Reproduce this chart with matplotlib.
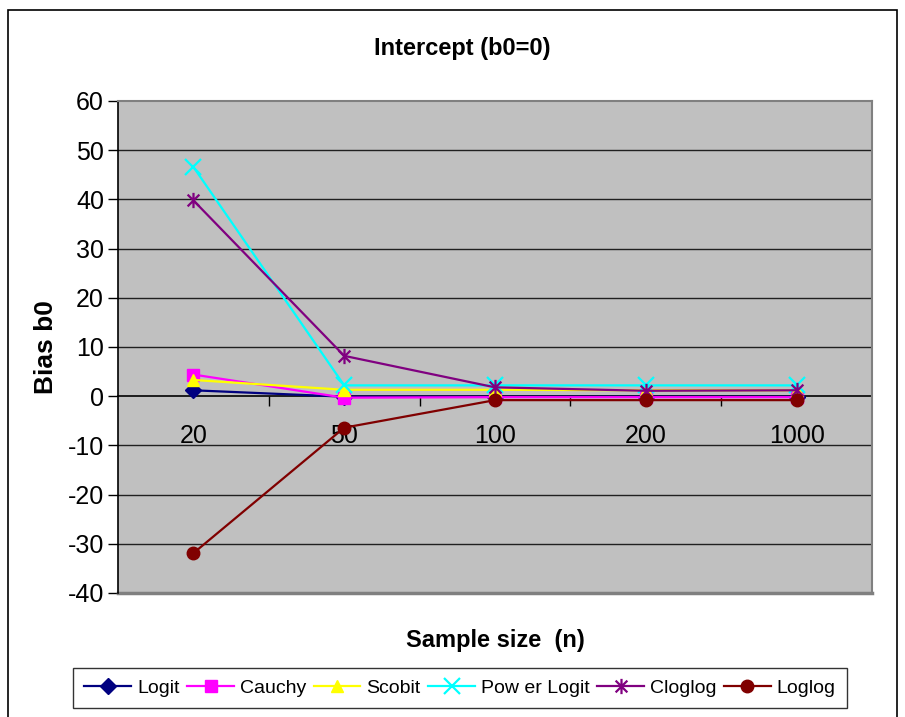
import matplotlib
matplotlib.use("Agg")
import matplotlib.pyplot as plt
from matplotlib.path import Path
from matplotlib.patches import Rectangle
from matplotlib import font_manager

# Data
sample_sizes = ["20", "50", "100", "200", "1000"]
logit = [1.2, -0.1, -0.1, -0.1, -0.1]
cauchy = [4.4, -0.3, -0.2, -0.2, -0.2]
scobit = [3.3, 1.3, 1.3, 1.2, 1.2]
power_logit = [46.6, 2.2, 2.2, 2.2, 2.2]
cloglog = [39.8, 8.2, 1.8, 1.1, 1.2]
loglog = [-31.9, -6.4, -0.8, -0.8, -0.8]

series_names = ["Logit", "Cauchy", "Scobit", "Pow er Logit", "Cloglog", "Loglog"]
y_ticks = list(range(-40, 61, 10))

available = {f.name for f in font_manager.fontManager.ttflist}
base_font = "Liberation Sans Narrow" if "Liberation Sans Narrow" in available else "Liberation Sans"
plt.rcParams["font.family"] = [base_font, "DejaVu Sans"]

# asterisk marker: an x crossed with a vertical bar
star_path = Path(
    [(-1, -1), (1, 1), (-1, 1), (1, -1), (0, -1.3), (0, 1.3)],
    [Path.MOVETO, Path.LINETO, Path.MOVETO, Path.LINETO, Path.MOVETO, Path.LINETO],
)

styles = [
    (logit, "#000080", "D", 8),
    (cauchy, "#FF00FF", "s", 8),
    (scobit, "#FFFF00", "^", 9),
    (power_logit, "#00FFFF", "x", 11),
    (cloglog, "#800080", star_path, 11),
    (loglog, "#800000", "o", 9),
]

fig = plt.figure(figsize=(9.05, 7.17), dpi=100)
ax = fig.add_axes([118 / 905, 1 - 593 / 717, (872 - 118) / 905, (593 - 101) / 717])
ax.set_facecolor("#C0C0C0")

xs = list(range(len(sample_sizes)))
for (vals, color, marker, ms), name in zip(styles, series_names):
    mew = 1.6 if marker in ("x",) or marker is star_path else 1
    ax.plot(xs, vals, color=color, lw=1.6, marker=marker, markersize=ms,
            markeredgewidth=mew, markerfacecolor=color, markeredgecolor=color,
            label=name, zorder=3)

ax.set_xlim(-0.5, len(sample_sizes) - 0.5)
ax.set_ylim(-40, 60)
ax.set_yticks(y_ticks)
ax.set_yticklabels([str(v) for v in y_ticks], fontsize=18)
for v in y_ticks:
    if -40 < v < 60 and v != 0:
        ax.axhline(v, color="#202020", lw=1.0, zorder=1)

# x axis sits on the zero line; ticks between categories, labels centred
ax.spines["bottom"].set_position(("data", 0))
ax.spines["bottom"].set_color("black")
ax.spines["bottom"].set_linewidth(1.2)
ax.spines["bottom"].set_zorder(2)
ax.set_xticks([i + 0.5 for i in range(len(sample_sizes) - 1)])
ax.set_xticklabels([])
ax.tick_params(axis="x", which="major", direction="out", length=7, width=1, color="black")
ax.set_xticks(xs, minor=True)
ax.set_xticklabels(sample_sizes, minor=True, fontsize=18)
ax.tick_params(axis="x", which="minor", length=0, pad=20)
ax.tick_params(axis="y", direction="out", length=7, width=1, color="black", pad=3)

ax.spines["left"].set_color("black")
ax.spines["left"].set_linewidth(1.2)
ax.spines["top"].set_color("#808080")
ax.spines["top"].set_linewidth(1.5)
ax.spines["right"].set_color("#808080")
ax.spines["right"].set_linewidth(1.5)
# bottom frame line of the plot area
ax.plot([0, 1], [0, 0], transform=ax.transAxes, color="#808080", lw=2.5, clip_on=False, zorder=2)

fig.text(462 / 905, 1 - 48 / 717, "Intercept (b0=0)", ha="center", va="center",
         fontsize=17, fontweight="bold")
fig.text(495 / 905, 1 - 640 / 717, "Sample size  (n)", ha="center", va="center",
         fontsize=17, fontweight="bold")
fig.text(46 / 905, 1 - 347 / 717, "Bias b0", ha="center", va="center", rotation=90,
         fontsize=19, fontweight="bold")

leg = fig.legend(loc="center", bbox_to_anchor=(460 / 905, 1 - 688 / 717), ncol=6,
                 fontsize=14, frameon=True, fancybox=False, handlelength=2.4,
                 handletextpad=0.3, columnspacing=0.4, borderpad=0.6)
leg.get_frame().set_edgecolor("black")
leg.get_frame().set_linewidth(1.0)

# outer chart border
fig.patches.append(Rectangle((8 / 905, -0.01), (897 - 8) / 905, 1.01 - 10 / 717,
                             transform=fig.transFigure, fill=False, edgecolor="black",
                             lw=1.2, zorder=0))

fig.savefig("out.png", dpi=100, facecolor="white")
